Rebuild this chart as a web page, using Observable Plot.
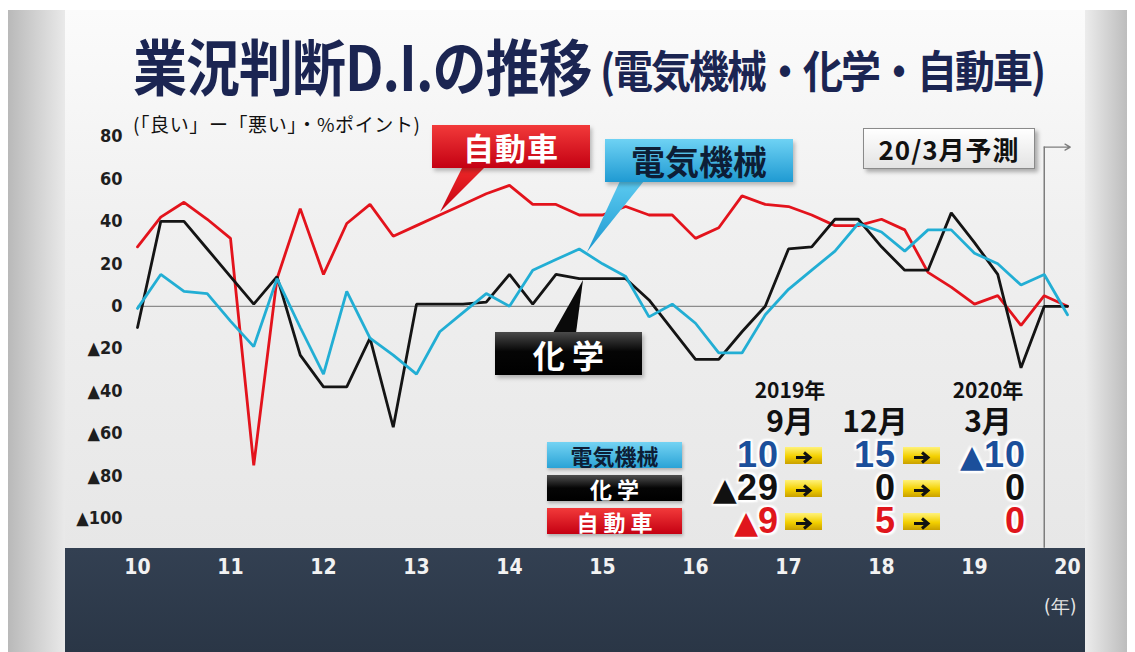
<!DOCTYPE html>
<html><head><meta charset="utf-8">
<script src="https://cdn.jsdelivr.net/npm/d3@7"></script>
<script src="https://cdn.jsdelivr.net/npm/@observablehq/plot@0.6"></script>
<style>
body{margin:0;background:#fff;}
#wrap{position:relative;width:1135px;height:652px;overflow:hidden;font-family:"Noto Sans CJK JP",sans-serif;}
.abs{position:absolute;white-space:nowrap;}
.narrow{font-family:"Liberation Sans Narrow","DejaVu Sans",sans-serif;font-stretch:condensed;}
#plot{position:absolute;left:0;top:0;}
#plot svg{display:block;}
[aria-label^="x-axis"]{color:#fff;}
[aria-label^="x-axis"] text{fill:#f2f2f2;font-size:21px;font-weight:700;}
[aria-label^="y-axis"] text{fill:#1e1e1e;font-size:18px;font-weight:700;}
.box{position:absolute;display:flex;align-items:center;justify-content:center;font-weight:700;white-space:nowrap;}
.val{position:absolute;font-family:"Liberation Sans",Arial,sans-serif;font-weight:700;font-size:36px;line-height:30px;height:30px;text-align:right;letter-spacing:1px;
 text-shadow:0 0 2px #fff,0 0 3px #fff,2px 2px 2px #fff,-2px -2px 2px #fff,2px -2px 2px #fff,-2px 2px 2px #fff;}
.val .tri{font-family:"DejaVu Sans",sans-serif;font-size:31px;letter-spacing:0;}
.arr{position:absolute;width:37px;height:17px;background:linear-gradient(#fff27a,#f3d000 55%,#c9a000);}
.hdr{position:absolute;font-weight:700;text-align:center;color:#111;}
</style></head><body>
<div id="wrap">
  <div class="abs" style="left:8px;top:10px;width:57px;height:642px;background:linear-gradient(to right,#b9b9b9,#e9e9e9);"></div>
  <div class="abs" style="left:65px;top:10px;width:1020px;height:538px;background:linear-gradient(#fbfbfb,#f0f0f0 40%,#e7e7e7);"></div>
  <div class="abs" style="left:1085px;top:10px;width:42px;height:642px;background:linear-gradient(to right,#ececec,#bdbdbd);"></div>
  <div class="abs" style="left:65px;top:548px;width:1020px;height:104px;background:linear-gradient(#334052,#2a3646);"></div>
  <div id="plot"></div>
  <svg class="abs" style="left:0;top:0" width="1135" height="652">
    <defs>
      <linearGradient id="gr" x1="0" y1="0" x2="0" y2="1"><stop offset="0" stop-color="#f02a2a"/><stop offset="1" stop-color="#c40010"/></linearGradient>
      <linearGradient id="gb" x1="0" y1="0" x2="0" y2="1"><stop offset="0" stop-color="#5ccaf0"/><stop offset="1" stop-color="#1c98d0"/></linearGradient>
    </defs>
    <polygon points="463,166 486,166 440,212" fill="url(#gr)"/>
    <polygon points="620,181 644,181 587,252" fill="url(#gb)"/>
    <polygon points="553,333 576,333 583,280" fill="#0a0a0a"/>
  </svg>
  <div class="abs" id="title" style="left:133px;top:34px;font-size:54px;font-weight:700;color:#1b2552;line-height:1;transform:scaleY(1.14);transform-origin:top left;letter-spacing:-1px;"></div>
  <div class="abs" id="subtitle" style="left:600px;top:47px;font-size:40px;font-weight:700;color:#1b2552;line-height:1;transform:scaleY(1.12);transform-origin:top left;letter-spacing:-2px;"></div>
  <div class="abs" id="unit" style="left:133px;top:114px;font-size:19px;color:#111;line-height:1;letter-spacing:0.6px;"></div>
  <div class="box" style="left:432px;top:125px;width:158px;height:43px;background:linear-gradient(#f23a3a,#c40012);color:#fff;font-size:31px;letter-spacing:1px;box-shadow:2px 3px 4px rgba(0,0,0,.25);">自動車</div>
  <div class="box" style="left:605px;top:139px;width:188px;height:43px;background:linear-gradient(#6ed2f4,#1f9ad2);color:#0d1e36;font-size:34px;box-shadow:2px 3px 4px rgba(0,0,0,.25);">電気機械</div>
  <div class="box" style="left:495px;top:332px;width:147px;height:43px;background:linear-gradient(#4a4a4a,#050505 45%,#000);color:#fff;font-size:32px;box-shadow:2px 3px 4px rgba(0,0,0,.25);">化&nbsp;学</div>
  <div class="box" style="left:863px;top:128px;width:170px;height:39px;background:linear-gradient(#ffffff,#e3e3e3);border:1px solid #8a8a8a;color:#111;font-size:26px;box-shadow:3px 3px 4px rgba(0,0,0,.3);letter-spacing:1px;">20/3月予測</div>
  <div class="abs narrow" id="nen" style="left:1044px;top:597px;font-size:19px;color:#e6e6e6;line-height:1;">(年)</div>
  <div id="table"></div>
</div>
<script>
// ---- data ----
const periods = ["2010/3","2010/6","2010/9","2010/12","2011/3","2011/6","2011/9","2011/12",
 "2012/3","2012/6","2012/9","2012/12","2013/3","2013/6","2013/9","2013/12",
 "2014/3","2014/6","2014/9","2014/12","2015/3","2015/6","2015/9","2015/12",
 "2016/3","2016/6","2016/9","2016/12","2017/3","2017/6","2017/9","2017/12",
 "2018/3","2018/6","2018/9","2018/12","2019/3","2019/6","2019/9","2019/12","2020/3"];
const seriesNames = ["自動車","化学","電気機械"];
const seriesColors = ["#e3131c","#141414","#22aed4"];
const autoValues = [28,42,49,41,32,-75,13,46,15,39,48,33,38,43,48,53,57,48,48,43,43,47,43,43,32,37,52,48,47,43,38,38,41,36,16,9,1,5,-9,5,0];
const chemValues = [-10,40,40,27,14,1,14,-23,-38,-38,-15,-57,1,1,1,2,15,1,15,13,13,13,3,-11,-25,-25,-12,0,27,28,41,41,28,17,17,44,30,15,-29,0,0];
const elecValues = [-1,15,7,6,-7,-19,13,-10,-32,7,-15,-23,-32,-12,-3,6,0,17,22,27,20,14,-5,1,-8,-22,-22,-4,8,17,26,39,35,26,36,36,25,20,10,15,-4];
const xTicks = [2010,2011,2012,2013,2014,2015,2016,2017,2018,2019,2020];
const xTickLabels = ["10","11","12","13","14","15","16","17","18","19","20"];
const yTicks = [80,60,40,20,0,-20,-40,-60,-80,-100];
const yTickLabels = ["80","60","40","20","0","▲20","▲40","▲60","▲80","▲100"];
const forecastPeriod = "2019/12";
const titleText = "業況判断D.I.の推移";
const subtitleText = "(電気機械・化学・自動車)";
const unitText = "(「良い」ー「悪い」・%ポイント)";
const tableHeaders = [["2019年","9月"],["","12月"],["2020年","3月"]];
const tableRowNames = ["電気機械","化 学","自 動 車"];
const tableRowValues = [[10,15,-10],[-29,0,0],[-9,5,0]];
const tableRowColors = ["#1b4f9b","#111111","#e0161c"];
const tableRowBoxes = ["linear-gradient(#74d3f3,#2aa3d6)","linear-gradient(#505050,#050505 50%,#000)","linear-gradient(#f23a3a,#c50012)"];
const tableRowTextColors = ["#0d1e36","#fff","#fff"];

// ---- build ----
document.getElementById("title").textContent = titleText;
document.getElementById("subtitle").textContent = subtitleText;
document.getElementById("unit").textContent = unitText;

const toX = p => { const [yy, mm] = p.split("/").map(Number); return yy + (mm - 3) / 12; };
const valueSets = [autoValues, chemValues, elecValues];
const rows = [];
seriesNames.forEach((name, k) => periods.forEach((p, i) => rows.push({series: name, x: toX(p), v: valueSets[k][i]})));

const fx = toX(forecastPeriod);
const chart = Plot.plot({
  width: 1135, height: 652,
  marginLeft: 137, marginRight: 68, marginTop: 136, marginBottom: 134,
  style: {background: "transparent", overflow: "visible", fontFamily: '"Liberation Sans Narrow","DejaVu Sans",sans-serif', fontSize: "17px", fontStretch: "condensed"},
  x: {domain: [2010, 2020], ticks: xTicks, tickFormat: d => xTickLabels[xTicks.indexOf(d)], tickSize: 0, tickPadding: 41, label: null},
  y: {domain: [-100, 80], ticks: yTicks, tickFormat: d => yTickLabels[yTicks.indexOf(d)], tickSize: 0, tickPadding: 15, label: null},
  color: {domain: seriesNames, range: seriesColors},
  marks: [
    Plot.ruleY([0], {stroke: "#8c8c8c", strokeWidth: 1.2}),
    Plot.ruleX([fx], {y1: -114, y2: 75, stroke: "#7d7d7d", strokeWidth: 1.5}),
    Plot.arrow([fx], {x1: d => d, x2: d => d + 0.28, y1: 75, y2: 75, stroke: "#7d7d7d", strokeWidth: 1.3, headLength: 7}),
    Plot.line(rows, {x: "x", y: "v", z: "series", stroke: "series", strokeWidth: 2.8, strokeLinejoin: "miter"})
  ]
});
document.getElementById("plot").appendChild(chart);

// table
const tbl = document.getElementById("table");
const colRight = [779, 896, 1026];
const colWidth = [94, 68, 84];
const colCenter = [790, 875, 988];
const rowTop = [441, 474, 507];
const arrowLeft = [785, 903];
tableHeaders.forEach((h, c) => {
  if (h[0]) { const d = document.createElement("div"); d.className = "hdr"; d.style.cssText += `left:${colCenter[c]-45}px;width:90px;top:378px;font-size:21px;line-height:22px;height:22px;`; d.textContent = h[0]; tbl.appendChild(d); }
  const m = document.createElement("div"); m.className = "hdr"; m.style.cssText += `left:${colCenter[c]-38}px;width:76px;top:403px;font-size:30px;line-height:32px;height:32px;`; m.textContent = h[1]; tbl.appendChild(m);
});
tableRowNames.forEach((name, r) => {
  const b = document.createElement("div"); b.className = "box";
  b.style.cssText += `left:547px;top:${rowTop[r]+1}px;width:135px;height:26px;background:${tableRowBoxes[r]};color:${tableRowTextColors[r]};font-size:22px;box-shadow:1px 2px 3px rgba(0,0,0,.25);`;
  b.textContent = name; tbl.appendChild(b);
  tableRowValues[r].forEach((v, c) => {
    const t = document.createElement("div"); t.className = "val";
    t.style.cssText += `left:${colRight[c]-colWidth[c]}px;width:${colWidth[c]}px;top:${rowTop[r]-1}px;color:${tableRowColors[r]};`;
    t.innerHTML = v < 0 ? '<span class="tri">▲</span>' + Math.abs(v) : String(v);
    tbl.appendChild(t);
  });
  arrowLeft.forEach(ax => {
    const a = document.createElement("div"); a.className = "arr";
    a.style.left = ax + "px"; a.style.top = (rowTop[r] + 6) + "px";
    a.innerHTML = '<svg width="37" height="17"><path d="M11 8.5H24M19 3.5L25 8.5L19 13.5" stroke="#111" stroke-width="3" fill="none"/></svg>';
    tbl.appendChild(a);
  });
});
</script>
</body></html>
